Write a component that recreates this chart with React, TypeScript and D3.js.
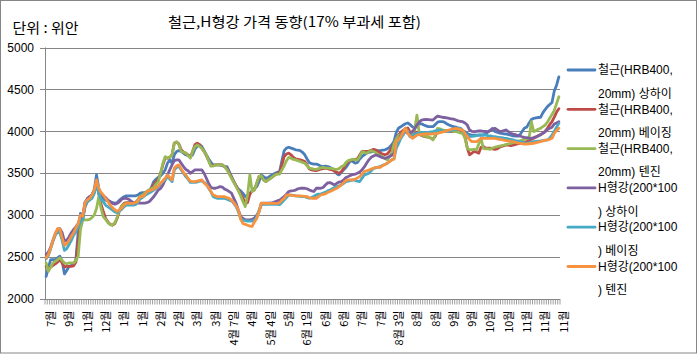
import React from "react";
import * as d3 from "d3";

const TITLE = "철근,H형강 가격 동향(17% 부과세 포함)";
const UNIT = "단위 : 위안";
const TICK_LABELS = [
  "7월", "9월", "11월", "12월", "1월", "1월", "2월", "2월", "3월", "3월",
  "4월 7일", "4월", "5월 4일", "5월", "6월 1일", "6월", "6월", "7월", "7월",
  "8월 3일", "8월", "8월", "9월", "9월", "10월", "10월", "11월", "11월", "11월",
];
const LABEL_EVERY = 8;
const Y_TICKS = [2000, 2500, 3000, 3500, 4000, 4500, 5000];

const SERIES_NAMES = [
  ["철근(HRB400,", "20mm) 상하이"],
  ["철근(HRB400,", "20mm) 베이징"],
  ["철근(HRB400,", "20mm) 텐진"],
  ["H형강(200*100", ") 상하이"],
  ["H형강(200*100", ") 베이징"],
  ["H형강(200*100", ") 텐진"],
];
const SERIES_COLORS = ["#4A7EBB", "#BE4B48", "#98B954", "#7D60A0", "#46AAC5", "#F69240"];

const rebarShanghai = [
  2270, 2380, 2470, 2470, 2470, 2490, 2510, 2450, 2300, 2340, 2390, 2400, 2410, 2470, 2800,
  3020, 2950, 3150, 3190, 3220, 3240, 3300, 3480, 3320, 3240, 3200, 3180, 3170, 3160, 3150,
  3140, 3150, 3180, 3200, 3220, 3230, 3230, 3230, 3230, 3230, 3240, 3260, 3270, 3270, 3280,
  3280, 3330, 3400, 3430, 3450, 3470, 3500, 3540, 3620, 3660, 3620, 3720, 3760, 3770, 3760,
  3740, 3720, 3710, 3700, 3720, 3790, 3820, 3840, 3820, 3770, 3720, 3670, 3630, 3600, 3600,
  3600, 3600, 3590, 3580, 3580, 3520, 3460, 3400, 3350, 3310, 3290, 3260, 3220, 3240, 3260,
  3290, 3320, 3340, 3400, 3480, 3460, 3440, 3450, 3470, 3480, 3500, 3510, 3520, 3650, 3770,
  3800, 3810, 3800, 3790, 3780, 3775, 3770, 3750, 3720, 3670, 3625, 3615, 3610, 3610, 3600,
  3585, 3580, 3585, 3580, 3570, 3555, 3530, 3495, 3480, 3510, 3540, 3570, 3610, 3650, 3640,
  3620, 3630, 3670, 3700, 3720, 3740, 3750, 3755, 3760, 3765, 3770, 3770, 3775, 3780, 3790,
  3810, 3840, 3880, 3990, 4040, 4055, 4075, 4090, 4100, 4080, 4055, 4040, 4060, 4090, 4090,
  4075, 4065, 4055, 4055, 4055, 4080, 4110, 4115, 4115, 4110, 4090, 4075, 4065, 4055, 4050,
  4040, 4035, 4010, 3995, 3975, 3960, 3955, 3955, 3955, 3955, 3955, 3955, 3970, 3990, 4010,
  4035, 4000, 3990, 3980, 3975, 3970, 3968, 3960, 3955, 3945, 3944, 3944, 3960, 4000, 4040,
  4050, 4100, 4140, 4155, 4160, 4165, 4167, 4220, 4260, 4295, 4320, 4345, 4480, 4550, 4650,
];

const rebarBeijing = [
  2390, 2370, 2380, 2400, 2420, 2440, 2470, 2430, 2380, 2390, 2390, 2390, 2395, 2440, 2700,
  2950, 2960, 3100, 3160, 3200, 3220, 3270, 3400, 3250, 3130, 3040, 2960, 2920, 2890, 2880,
  2900, 2960, 3050, 3110, 3140, 3150, 3150, 3150, 3150, 3150, 3180, 3220, 3240, 3260, 3280,
  3300, 3320, 3360, 3400, 3420, 3500, 3600, 3680, 3680, 3690, 3720, 3860, 3870, 3850, 3780,
  3750, 3740, 3720, 3690, 3760, 3840, 3860, 3840, 3800, 3760, 3710, 3650, 3590, 3590, 3600,
  3600, 3600, 3600, 3580, 3550, 3500, 3450, 3400, 3350, 3300, 3250, 3200, 3140, 3150, 3250,
  3290, 3300, 3380, 3460, 3470, 3420, 3400, 3420, 3440, 3460, 3480, 3500, 3500, 3600, 3700,
  3730, 3740, 3720, 3690, 3670, 3665, 3660, 3650, 3640, 3600, 3550, 3540, 3535, 3532, 3540,
  3550, 3555, 3560, 3555, 3545, 3540, 3525, 3510, 3500, 3520, 3560, 3610, 3640, 3655, 3660,
  3665, 3670, 3720, 3760, 3760, 3760, 3765, 3775, 3785, 3780, 3760, 3740, 3730, 3720, 3730,
  3760, 3800, 3860, 3910, 3960, 3990, 4010, 4030, 4040, 3990, 3940, 3980, 3990, 3970, 3950,
  3940, 3935, 3930, 3920, 3910, 3940, 4010, 4020, 4010, 4005, 4000, 3998, 3997, 4000, 4005,
  4010, 4010, 3990, 3940, 3800, 3720, 3740, 3760, 3750, 3740, 3810, 3820, 3800, 3800, 3800,
  3790, 3785, 3790, 3810, 3820, 3830, 3837, 3835, 3830, 3835, 3845, 3850, 3855, 3860, 3870,
  3878, 3890, 3905, 3917, 3930, 3950, 3960, 3980, 4000, 4036, 4080, 4115, 4170, 4230, 4270,
];

const rebarTianjin = [
  2430, 2330, 2380, 2430, 2450, 2470, 2490, 2460, 2430, 2420, 2430, 2430, 2430, 2460, 2510,
  2830, 2940, 2944, 2944, 2950, 2970, 3000, 3080, 3220, 3080, 2980, 2950, 2910, 2885, 2885,
  2910, 2970, 3060, 3110, 3130, 3143, 3143, 3143, 3143, 3143, 3180, 3220, 3240, 3260, 3282,
  3300, 3315, 3330, 3370, 3400, 3500, 3620, 3698, 3680, 3690, 3720, 3860, 3877, 3840, 3760,
  3750, 3740, 3710, 3680, 3760, 3817, 3837, 3820, 3798, 3760, 3718, 3650, 3585, 3585, 3599,
  3599, 3599, 3599, 3580, 3540, 3490, 3440, 3390, 3341, 3290, 3230, 3160, 3103, 3242, 3480,
  3282, 3301, 3380, 3460, 3470, 3420, 3401, 3420, 3440, 3460, 3480, 3490, 3490, 3540, 3590,
  3650, 3690, 3680, 3665, 3659, 3650, 3640, 3630, 3620, 3590, 3560, 3555, 3550, 3547, 3555,
  3565, 3571, 3565, 3560, 3559, 3555, 3550, 3547, 3555, 3580, 3590, 3630, 3650, 3660, 3667,
  3662, 3659, 3700, 3758, 3750, 3738, 3755, 3770, 3760, 3746, 3725, 3710, 3698, 3680, 3659,
  3700, 3738, 3850, 3910, 3950, 3965, 3990, 4036, 4000, 3976, 3990, 4016, 4194, 3976, 3960,
  3944, 3940, 3936, 3920, 3897, 3960, 4036, 4030, 4016, 4012, 4010, 4008, 4005, 4000, 3996,
  3990, 3980, 3976, 3917, 3800, 3778, 3782, 3786, 3778, 3850, 3917, 3797, 3792, 3790, 3786,
  3800, 3810, 3817, 3825, 3830, 3837, 3845, 3850, 3857, 3865, 3870, 3877, 3887, 3897, 3905,
  3912, 3917, 4115, 3996, 4010, 4025, 4036, 4055, 4075, 4110, 4155, 4200, 4250, 4330, 4413,
];

const hbeamShanghai = [
  2530, 2560, 2620, 2700, 2780, 2830, 2840, 2790, 2690, 2700, 2740, 2790, 2830, 2860, 2900,
  2980, 3000, 3150, 3200, 3220, 3240, 3300, 3360, 3280, 3240, 3230, 3210, 3180, 3160, 3140,
  3130, 3140, 3160, 3190, 3200, 3200, 3190, 3170, 3150, 3145, 3143, 3143, 3143, 3143, 3150,
  3160, 3190, 3220, 3260, 3300, 3320, 3360, 3420, 3480, 3540, 3600, 3650, 3660, 3660, 3620,
  3580, 3545, 3530, 3500, 3520, 3540, 3540, 3540, 3540, 3500, 3440, 3380, 3330, 3321, 3321,
  3330, 3340, 3335, 3310, 3300, 3280, 3262, 3200, 3140, 3060, 2984, 2960, 2945, 2945, 2945,
  2950, 2965, 3000, 3040, 3143, 3143, 3143, 3143, 3145, 3150, 3160, 3170, 3180, 3200, 3222,
  3250, 3282, 3290, 3294, 3300, 3315, 3321, 3321, 3321, 3315, 3301, 3290, 3282, 3321, 3321,
  3321, 3330, 3360, 3385, 3389, 3375, 3361, 3380, 3395, 3401, 3420, 3450, 3462, 3475, 3485,
  3490, 3500, 3515, 3540, 3575, 3619, 3660, 3690, 3705, 3718, 3710, 3698, 3685, 3678, 3688,
  3698, 3715, 3738, 3820, 3897, 3956, 3975, 3996, 3976, 3985, 3996, 4030, 4075, 4110, 4135,
  4140, 4143, 4140, 4137, 4135, 4160, 4182, 4175, 4168, 4165, 4160, 4155, 4150, 4145, 4135,
  4125, 4120, 4115, 4100, 4075, 4015, 4000, 3996, 4000, 4004, 4004, 4000, 3998, 3996, 4010,
  4025, 4036, 4020, 4000, 4000, 4010, 4016, 3995, 3975, 3968, 3960, 3950, 3944, 3935, 3928,
  3925, 3920, 3917, 3925, 3935, 3945, 3960, 3976, 3995, 4020, 4036, 4050, 4087, 4100, 4115,
];

const hbeamBeijing = [
  2480, 2520, 2600, 2690, 2760, 2800, 2790, 2700, 2580, 2600, 2650, 2700, 2760, 2800, 2860,
  2920, 2950, 3120, 3160, 3180, 3200, 3260, 3380, 3260, 3190, 3160, 3120, 3100, 3080, 3060,
  3040, 3030, 3050, 3070, 3100, 3120, 3120, 3120, 3120, 3125, 3150, 3190, 3210, 3230, 3250,
  3265, 3280, 3300, 3320, 3340, 3370, 3400, 3420, 3460, 3430, 3400, 3540, 3570, 3580, 3540,
  3500, 3460, 3430, 3390, 3390, 3390, 3395, 3405, 3410, 3390, 3370, 3320, 3280, 3220, 3210,
  3200, 3200, 3200, 3200, 3190, 3180, 3170, 3140, 3100, 3040, 2960, 2940, 2935, 2930, 2930,
  2930, 2940, 2980, 3060, 3120, 3130, 3130, 3130, 3130, 3130, 3130, 3130, 3125, 3150, 3182,
  3210, 3240, 3238, 3235, 3230, 3228, 3225, 3222, 3220, 3210, 3202, 3210, 3225, 3242, 3250,
  3255, 3262, 3275, 3290, 3301, 3315, 3330, 3341, 3350, 3361, 3380, 3400, 3405, 3412, 3420,
  3415, 3405, 3401, 3440, 3480, 3490, 3500, 3530, 3559, 3565, 3572, 3579, 3595, 3605, 3619,
  3640, 3659, 3678, 3800, 3857, 3920, 3956, 4036, 3980, 3936, 3950, 3968, 3975, 3980, 3984,
  3984, 3984, 3988, 3992, 3996, 4005, 4012, 4016, 4010, 4000, 3996, 4000, 4010, 4016, 4025,
  4030, 4036, 4000, 3976, 3955, 3936, 3940, 3944, 3950, 3956, 3956, 3956, 3956, 3950, 3945,
  3940, 3936, 3932, 3928, 3925, 3920, 3917, 3910, 3905, 3897, 3890, 3885, 3877, 3870, 3862,
  3857, 3865, 3872, 3877, 3880, 3883, 3885, 3890, 3895, 3897, 3920, 3956, 4000, 4050, 4095,
];

const hbeamTianjin = [
  2490, 2530, 2610, 2700, 2780, 2840, 2835, 2730, 2640, 2660, 2700, 2750, 2790, 2850, 2900,
  3000, 2990, 3150, 3185, 3200, 3240, 3300, 3420, 3320, 3270, 3240, 3200, 3160, 3120, 3090,
  3065, 3045, 3060, 3085, 3120, 3140, 3140, 3140, 3140, 3150, 3160, 3220, 3220, 3240, 3280,
  3290, 3300, 3310, 3330, 3350, 3380, 3410, 3440, 3480, 3450, 3420, 3560, 3590, 3600, 3550,
  3510, 3480, 3440, 3405, 3400, 3400, 3405, 3415, 3420, 3385, 3360, 3330, 3280, 3240, 3230,
  3220, 3220, 3220, 3220, 3210, 3200, 3180, 3150, 3110, 3060, 2950, 2900, 2890, 2880, 2870,
  2865, 2920, 2960, 3040, 3140, 3140, 3140, 3140, 3140, 3140, 3140, 3140, 3150, 3180, 3200,
  3240, 3242, 3238, 3232, 3230, 3230, 3230, 3228, 3225, 3222, 3205, 3202, 3202, 3202, 3220,
  3242, 3248, 3254, 3270, 3282, 3295, 3310, 3321, 3340, 3361, 3390, 3415, 3420, 3420, 3420,
  3430, 3445, 3460, 3490, 3520, 3530, 3538, 3550, 3560, 3571, 3571, 3571, 3590, 3605, 3619,
  3640, 3659, 3667, 3877, 3900, 3936, 3990, 4036, 3976, 3945, 3917, 3935, 3956, 3960, 3965,
  3968, 3968, 3968, 3968, 3970, 3973, 3976, 3984, 3990, 3996, 4005, 4016, 4025, 4030, 4036,
  4030, 4020, 4016, 3975, 3936, 3900, 3877, 3877, 3877, 3895, 3917, 3917, 3917, 3917, 3917,
  3917, 3915, 3910, 3905, 3900, 3895, 3889, 3885, 3880, 3877, 3870, 3862, 3857, 3852, 3849,
  3849, 3852, 3855, 3857, 3865, 3872, 3877, 3885, 3892, 3897, 3905, 3917, 3976, 4010, 4036,
];

const SERIES_VALUES = [rebarShanghai, rebarBeijing, rebarTianjin, hbeamShanghai, hbeamBeijing, hbeamTianjin];

const FONT = "'Liberation Sans', 'Noto Sans CJK KR', sans-serif";
const KFONT = "'Noto Sans CJK KR', 'Liberation Sans', sans-serif";

export default function App() {
  const W = 698;
  const H = 355;
  const left = 45;
  const right = 560;
  const top = 47.5;
  const bottom = 299;
  const n = rebarShanghai.length;
  const grid = "#868686";

  const x = d3.scaleBand<number>().domain(d3.range(n)).range([left, right]).paddingInner(0).paddingOuter(0);
  const cx = (i: number) => (x(i) as number) + x.bandwidth() / 2;
  const y = d3.scaleLinear().domain([2000, 5000]).range([bottom, top]);
  const line = d3
    .line<number>()
    .x((_, i) => cx(i))
    .y((d) => y(d));

  const boundaries = d3.range(n + 1).map((i) => left + i * x.bandwidth());

  return (
    <svg
      width={W}
      height={H}
      style={{ position: "absolute", left: 0, top: 0, background: "#fff" }}
      xmlns="http://www.w3.org/2000/svg"
    >
      <rect x={0.5} y={0.5} width={696} height={352.5} fill="#fff" stroke={grid} strokeWidth={1} />

      <text x={168} y={27} fontFamily={KFONT} fontSize={14} fill="#000" textLength={253} lengthAdjust="spacingAndGlyphs">
        {TITLE}
      </text>
      <text x={12.5} y={33} fontFamily={KFONT} fontSize={14} fill="#000" textLength={66} lengthAdjust="spacingAndGlyphs">
        {UNIT}
      </text>

      {Y_TICKS.map((t) => (
        <g key={t}>
          {t !== 2000 && (
            <line x1={left} x2={right} y1={Math.round(y(t)) + 0.5} y2={Math.round(y(t)) + 0.5} stroke={grid} strokeWidth={1} />
          )}
          <line x1={40} x2={left} y1={Math.round(y(t)) + 0.5} y2={Math.round(y(t)) + 0.5} stroke={grid} strokeWidth={1} />
          <text x={34} y={y(t)} dy="0.35em" textAnchor="end" fontFamily={FONT} fontSize={12} fill="#000">
            {t}
          </text>
        </g>
      ))}

      <line x1={left + 0.5} x2={left + 0.5} y1={top} y2={bottom} stroke={grid} strokeWidth={1} />
      <line x1={left} x2={right} y1={Math.round(bottom) + 0.5} y2={Math.round(bottom) + 0.5} stroke={grid} strokeWidth={1} />
      {boundaries.map((bx, i) => (
        <line key={i} x1={bx} x2={bx} y1={bottom} y2={bottom + 5.5} stroke={grid} strokeWidth={0.8} />
      ))}

      {TICK_LABELS.map((lab, k) => {
        const px = cx(k * LABEL_EVERY) + 5;
        return (
          <text
            key={k}
            transform={`translate(${px},310.5) rotate(-90)`}
            textAnchor="end"
            dy="0.35em"
            fontFamily={KFONT}
            fontSize={11}
            fill="#000"
          >
            {lab}
          </text>
        );
      })}

      {SERIES_VALUES.map((vals, s) => (
        <path
          key={s}
          d={line(vals) || ""}
          fill="none"
          stroke={SERIES_COLORS[s]}
          strokeWidth={2.8}
          strokeLinejoin="round"
          strokeLinecap="round"
        />
      ))}

      {SERIES_NAMES.map((nm, s) => {
        const ly = 70 + s * 39.3;
        return (
          <g key={s}>
            <line x1={568} x2={595} y1={ly} y2={ly} stroke={SERIES_COLORS[s]} strokeWidth={2.8} strokeLinecap="round" />
            <text x={598} y={ly} dy="0.35em" fontFamily={FONT} fontSize={12} fill="#000">
              {nm[0]}
            </text>
            <text x={598} y={ly + 23.5} dy="0.35em" fontFamily={FONT} fontSize={12} fill="#000">
              {nm[1]}
            </text>
          </g>
        );
      })}
    </svg>
  );
}
